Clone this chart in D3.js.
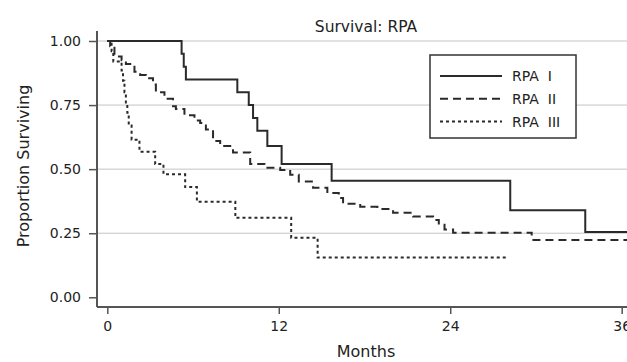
<!DOCTYPE html>
<html>
<head>
<meta charset="utf-8">
<script src="https://cdn.jsdelivr.net/npm/d3@7"></script>
<style>
  body { margin: 0; background: #fff; }
  svg { display: block; font-family: 'DejaVu Sans', sans-serif; }
  text { fill: #222; }
</style>
</head>
<body>
<svg id="chart" width="627" height="362"></svg>
<script>
// Kaplan-Meier steps (months, proportion surviving)
const rpa1Months = [0, 5.2, 5.35, 5.5, 9.1, 9.9, 10.2, 10.5, 11.2, 12.2, 15.7, 28.2, 33.45, 37];
const rpa1Surv = [1, 0.95, 0.9, 0.85, 0.8, 0.75, 0.7, 0.65, 0.59, 0.52, 0.455, 0.34, 0.255, 0.255];

const rpa2Months = [0, 0.2, 0.5, 1.0, 1.3, 1.9, 2.3, 2.7, 3.2, 3.4, 4.0, 4.6, 4.8, 5.4, 6.1, 6.5, 6.9,
  7.4, 7.9, 8.8, 10.0, 11.0, 12.1, 12.8, 13.4, 14.4, 15.4, 16.2, 16.5, 17.7, 18.9, 20.0, 21.4,
  22.8, 23.2, 23.6, 24.2, 29.7, 37];
const rpa2Surv = [1, 0.98, 0.94, 0.925, 0.91, 0.88, 0.867, 0.855, 0.83, 0.8, 0.775, 0.745, 0.735, 0.71,
  0.69, 0.68, 0.655, 0.61, 0.59, 0.565, 0.52, 0.505, 0.497, 0.478, 0.452, 0.427, 0.407, 0.387,
  0.365, 0.353, 0.345, 0.33, 0.315, 0.302, 0.283, 0.265, 0.252, 0.224, 0.224];

const rpa3Months = [0, 0.3, 0.42, 1.0, 1.1, 1.2, 1.3, 1.4, 1.5, 1.7, 2.25, 3.35, 3.93, 5.45, 6.27, 8.96, 12.87, 14.72, 28.0];
const rpa3Surv = [1, 0.96, 0.92, 0.885, 0.845, 0.8, 0.76, 0.72, 0.67, 0.615, 0.568, 0.52, 0.48, 0.43, 0.373, 0.31, 0.232, 0.155, 0.155];

const seriesNames = ['RPA  I', 'RPA  II', 'RPA  III'];
const xTicks = [0, 12, 24, 36];
const yTicks = [0, 0.25, 0.5, 0.75, 1];

const dashes = ['none', '8,5', '3,3'];

const svg = d3.select('#chart');
const x = d3.scaleLinear().domain([0, 36]).range([107.3, 621.7]);
const y = d3.scaleLinear().domain([0, 1]).range([297.3, 41]);
const axisLeftX = 97;
const axisBottomY = 307;

// gridlines
svg.append('g')
  .selectAll('line')
  .data(yTicks.filter((d) => d > 0))
  .enter()
  .append('line')
  .attr('x1', axisLeftX)
  .attr('x2', 627)
  .attr('y1', (d) => y(d))
  .attr('y2', (d) => y(d))
  .attr('stroke', '#c4c4c4')
  .attr('stroke-width', 1);

// y axis
const yAxisG = svg.append('g').attr('transform', `translate(${axisLeftX},0)`);
yAxisG.call(d3.axisLeft(y).tickValues(yTicks).tickFormat(d3.format('.2f')).tickSize(8).tickPadding(8));
yAxisG.select('.domain').remove();
yAxisG.selectAll('.tick line').attr('stroke', '#555').attr('stroke-width', 1.5);
yAxisG.selectAll('.tick text').attr('font-size', 14).attr('font-family', 'DejaVu Sans').attr('fill', '#222');
yAxisG.append('line')
  .attr('x1', 0).attr('x2', 0)
  .attr('y1', 31).attr('y2', axisBottomY)
  .attr('stroke', '#555').attr('stroke-width', 2);

// x axis
const xAxisG = svg.append('g').attr('transform', `translate(0,${axisBottomY})`);
xAxisG.call(d3.axisBottom(x).tickValues(xTicks).tickSize(7).tickPadding(7));
xAxisG.select('.domain').remove();
xAxisG.selectAll('.tick line').attr('stroke', '#555').attr('stroke-width', 1.5);
xAxisG.selectAll('.tick text').attr('font-size', 14).attr('font-family', 'DejaVu Sans').attr('fill', '#222');
xAxisG.append('line')
  .attr('x1', axisLeftX).attr('x2', 627)
  .attr('y1', 0).attr('y2', 0)
  .attr('stroke', '#555').attr('stroke-width', 2);

// curves
const line = d3.line()
  .x((d) => x(d[0]))
  .y((d) => y(d[1]))
  .curve(d3.curveStepAfter);

const series = [
  d3.zip(rpa1Months, rpa1Surv),
  d3.zip(rpa2Months, rpa2Surv),
  d3.zip(rpa3Months, rpa3Surv),
];

svg.append('g')
  .selectAll('path')
  .data(series)
  .enter()
  .append('path')
  .attr('d', (d) => line(d))
  .attr('fill', 'none')
  .attr('stroke', '#2a2a2a')
  .attr('stroke-width', 2)
  .attr('stroke-dasharray', (d, i) => dashes[i]);

// titles
svg.append('text')
  .attr('x', 366)
  .attr('y', 32)
  .attr('text-anchor', 'middle')
  .attr('font-size', 15.5)
  .text('Survival: RPA');

svg.append('text')
  .attr('x', 366)
  .attr('y', 357)
  .attr('text-anchor', 'middle')
  .attr('font-size', 16)
  .text('Months');

svg.append('text')
  .attr('transform', 'translate(29,166) rotate(-90)')
  .attr('text-anchor', 'middle')
  .attr('font-size', 16)
  .text('Proportion Surviving');

// legend
const legend = svg.append('g');
legend.append('rect')
  .attr('x', 430)
  .attr('y', 55)
  .attr('width', 146)
  .attr('height', 83)
  .attr('fill', '#fff')
  .attr('stroke', '#333')
  .attr('stroke-width', 1.5);

const legendRows = legend.selectAll('g.row')
  .data(seriesNames)
  .enter()
  .append('g')
  .attr('class', 'row')
  .attr('transform', (d, i) => `translate(0,${76 + i * 22.8})`);

legendRows.append('line')
  .attr('x1', 440)
  .attr('x2', 502)
  .attr('stroke', '#2a2a2a')
  .attr('stroke-width', 2)
  .attr('stroke-dasharray', (d, i) => dashes[i]);

legendRows.append('text')
  .attr('x', 512)
  .attr('dy', '0.36em')
  .attr('font-size', 14)
  .style('white-space', 'pre')
  .text((d) => d);
</script>
</body>
</html>
